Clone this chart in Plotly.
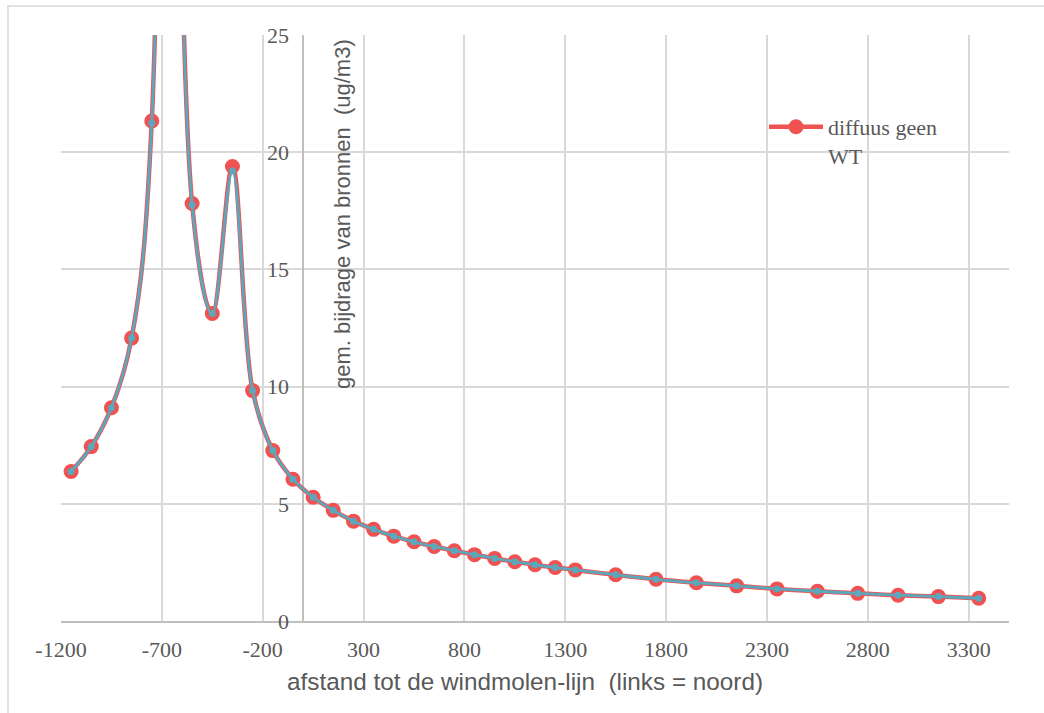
import plotly.graph_objects as go

# distance to the wind turbine line (m), left = north
x_dist = [-1150, -1050, -950, -850, -750, -650, -550, -450, -350, -250, -150, -50,
          50, 150, 250, 350, 450, 550, 650, 750, 850, 950, 1050, 1150, 1250, 1350,
          1550, 1750, 1950, 2150, 2350, 2550, 2750, 2950, 3150, 3350]

# average contribution of sources (ug/m3), series "diffuus geen WT"
y_red = [6.38, 7.44, 9.10, 12.07, 21.33, 250.0, 17.81, 13.12, 19.39, 9.83, 7.27, 6.05,
         5.28, 4.72, 4.26, 3.91, 3.62, 3.38, 3.18, 3.00, 2.83, 2.67, 2.53, 2.40, 2.28, 2.18,
         1.97, 1.78, 1.63, 1.50, 1.37, 1.27, 1.18, 1.10, 1.04, 0.97]

# overlaid companion series (teal), nearly identical
y_teal = [6.38, 7.44, 9.10, 12.07, 21.25, 250.0, 17.76, 13.12, 19.20, 9.83, 7.27, 6.05,
          5.28, 4.72, 4.26, 3.91, 3.62, 3.38, 3.18, 3.00, 2.83, 2.67, 2.53, 2.40, 2.28, 2.18,
          1.97, 1.78, 1.63, 1.50, 1.37, 1.27, 1.18, 1.10, 1.04, 0.97]

x_tickvals = [-1200, -700, -200, 300, 800, 1300, 1800, 2300, 2800, 3300]
x_ticktext = ["-1200", "-700", "-200", "300", "800", "1300", "1800", "2300", "2800", "3300"]
y_tickvals = [0, 5, 10, 15, 20, 25]

series_name = "diffuus geen<br>WT"
x_title = "afstand tot de windmolen-lijn  (links = noord)"
y_title = "gem. bijdrage van bronnen  (ug/m3)"

RED = "#F05252"
TEAL = "#5BA7BB"
GRID = "#D9D9D9"
AXIS = "#BFBFBF"
TXT = "#595959"
SERIF = "Liberation Serif, Times New Roman, serif"
SANS = "Liberation Sans, Arial, sans-serif"

X_MIN, X_MAX = -1200, 3500
Y_MIN, Y_MAX = 0, 25

fig = go.Figure()
fig.add_trace(go.Scatter(
    x=x_dist, y=y_red, name=series_name, mode="lines+markers",
    line=dict(color=RED, width=4.5, shape="spline", smoothing=1.0),
    marker=dict(color=RED, size=15, line=dict(width=0)),
    cliponaxis=True, showlegend=True))
fig.add_trace(go.Scatter(
    x=x_dist, y=y_teal, name="teal", mode="lines+markers",
    line=dict(color=TEAL, width=2.8, shape="spline", smoothing=1.0),
    marker=dict(color=TEAL, size=7, line=dict(width=0)),
    cliponaxis=True, showlegend=False))

W, H = 1044, 713
ml, mr, mt, mb = 61, 35, 35, 92
pw, ph = W - ml - mr, H - mt - mb

def px_x(p):
    return (p - ml) / pw

def px_y(p):
    return (H - mb - p) / ph

y_axis_pos = (0 - X_MIN) / (X_MAX - X_MIN)

fig.update_layout(
    width=W, height=H,
    margin=dict(l=ml, r=mr, t=mt, b=mb),
    paper_bgcolor="white", plot_bgcolor="white",
    xaxis=dict(range=[X_MIN, X_MAX], tickmode="array",
               tickvals=x_tickvals, ticktext=x_ticktext,
               showgrid=True, gridcolor=GRID, gridwidth=1.5,
               zeroline=True, zerolinecolor=AXIS, zerolinewidth=1.5,
               showline=True, linecolor=AXIS, linewidth=1.5,
               ticks="", ticklabelstandoff=8,
               tickfont=dict(family=SERIF, size=22, color=TXT)),
    yaxis=dict(range=[Y_MIN, Y_MAX], tickmode="array", tickvals=y_tickvals,
               showgrid=True, gridcolor=GRID, gridwidth=1.5,
               zeroline=False, showline=False,
               anchor="free", position=y_axis_pos, ticks="",
               ticklabelstandoff=14,
               tickfont=dict(family=SERIF, size=22, color=TXT)),
    showlegend=True,
    legend=dict(x=px_x(764), y=px_y(106), xanchor="left", yanchor="top",
                bgcolor="rgba(0,0,0,0)", valign="top", itemwidth=54,
                font=dict(family=SERIF, size=22, color=TXT)),
    annotations=[
        dict(text=x_title, xref="paper", yref="paper",
             x=px_x(525), y=px_y(681), xanchor="center", yanchor="middle",
             showarrow=False, font=dict(family=SANS, size=24.3, color=TXT)),
        dict(text=y_title, xref="paper", yref="paper", textangle=-90,
             x=px_x(342), y=px_y(214), xanchor="center", yanchor="middle",
             showarrow=False, font=dict(family=SANS, size=22, color=TXT)),
    ],
    shapes=[
        dict(type="rect", xref="paper", yref="paper",
             x0=px_x(8), x1=px_x(1060), y0=px_y(6), y1=px_y(730),
             line=dict(color=GRID, width=1.5), fillcolor="rgba(0,0,0,0)", layer="below"),
    ],
)

fig.write_html("out.html")
